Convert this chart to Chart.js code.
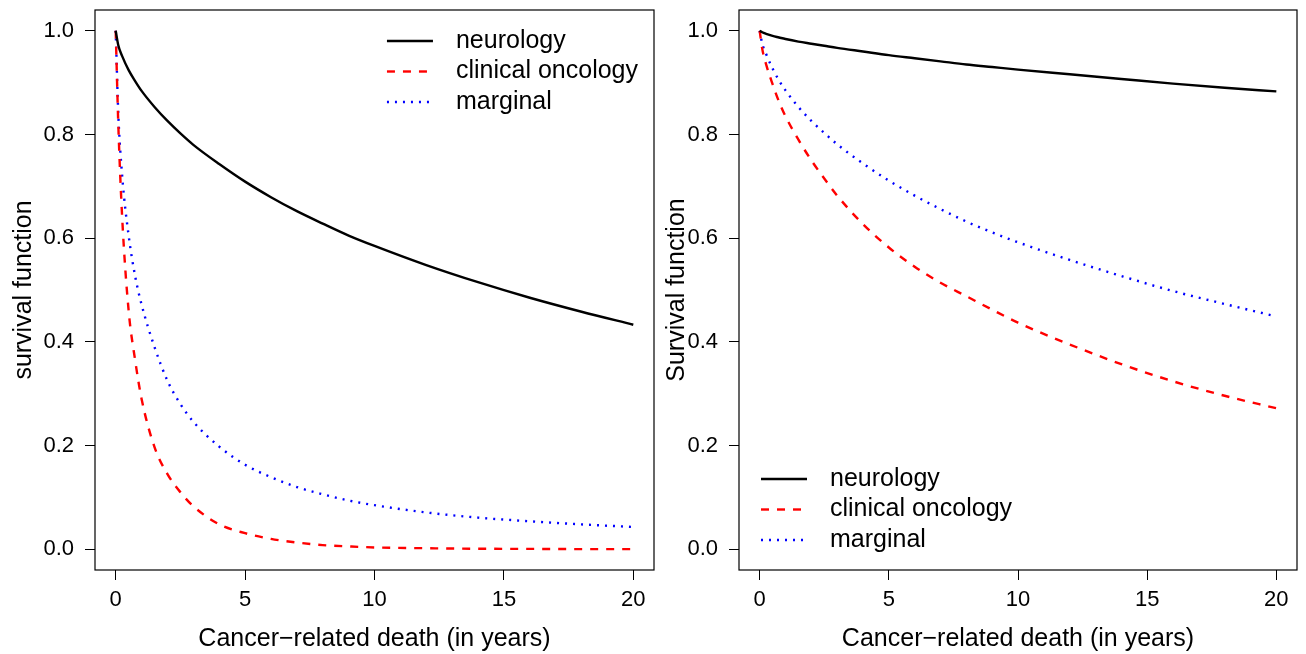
<!DOCTYPE html>
<html>
<head>
<meta charset="utf-8">
<title>Survival functions</title>
<script src="https://cdn.jsdelivr.net/npm/chart.js@4"></script>
<style>
  body { margin: 0; background: #fff; }
  .panel { position: absolute; top: 0; }
  #leftPanel { left: 0; }
  #rightPanel { left: 653px; }
</style>
</head>
<body>
<div class="panel" id="leftPanel"><canvas id="leftChart" width="660" height="654"></canvas></div>
<div class="panel" id="rightPanel"><canvas id="rightChart" width="653" height="654"></canvas></div>

<script>
// Time grid in years (finer near 0 where the curves drop fast)
const years = [0, 0.1, 0.25, 0.5, 0.75, 1, 1.5, 2, 2.5, 3, 4, 5, 6, 7, 8, 9, 10, 12, 14, 16, 18, 20];

// Left panel: survival function per group
const leftNeurology = [1.0, 0.972, 0.951, 0.924, 0.903, 0.884, 0.853, 0.826, 0.802, 0.780, 0.743, 0.709, 0.679, 0.652, 0.628, 0.605, 0.585, 0.548, 0.515, 0.485, 0.458, 0.433];
const leftOncology  = [1.0, 0.82, 0.64, 0.46, 0.365, 0.29, 0.197, 0.145, 0.110, 0.083, 0.048, 0.031, 0.020, 0.013, 0.008, 0.0055, 0.0035, 0.002, 0.001, 0.0007, 0.0003, 0.0002];
const leftMarginal  = [1.0, 0.84, 0.72, 0.605, 0.527, 0.472, 0.39, 0.325, 0.28, 0.246, 0.198, 0.163, 0.139, 0.120, 0.106, 0.094, 0.085, 0.071, 0.061, 0.054, 0.048, 0.043];

// Right panel: Survival function per group
const rightNeurology = [1.0, 0.997, 0.994, 0.990, 0.987, 0.984, 0.979, 0.975, 0.971, 0.967, 0.960, 0.953, 0.947, 0.941, 0.935, 0.930, 0.925, 0.916, 0.907, 0.898, 0.890, 0.883];
const rightOncology  = [1.0, 0.965, 0.935, 0.897, 0.863, 0.835, 0.790, 0.750, 0.715, 0.682, 0.627, 0.582, 0.545, 0.514, 0.488, 0.462, 0.437, 0.395, 0.357, 0.324, 0.296, 0.272];
const rightMarginal  = [1.0, 0.975, 0.955, 0.927, 0.904, 0.885, 0.853, 0.826, 0.803, 0.781, 0.744, 0.711, 0.682, 0.656, 0.632, 0.611, 0.592, 0.558, 0.527, 0.498, 0.473, 0.449];

// Labels and ticks
const seriesLabels = ['neurology', 'clinical oncology', 'marginal'];
const xTickValues = [0, 5, 10, 15, 20];
const yTickValues = [0, 0.2, 0.4, 0.6, 0.8, 1.0];
const xTitle = 'Cancer\u2212related death (in years)';

Chart.defaults.font.family = "'Liberation Sans', Arial, Helvetica, sans-serif";
Chart.defaults.color = '#000';

// Line styles: solid black, dashed red, dotted blue
const seriesStyles = [
    { color: '#000000', dash: [] },
    { color: '#ff0000', dash: [8, 8] },
    { color: '#0000ff', dash: [2, 6] }
];

// Frame around the plotting region
const boxPlugin = {
    id: 'plotBox',
    afterDatasetsDraw(chart) {
        const a = chart.chartArea;
        const ctx = chart.ctx;
        ctx.save();
        ctx.strokeStyle = '#000';
        ctx.lineWidth = 1.2;
        ctx.strokeRect(a.left, a.top, a.right - a.left, a.bottom - a.top);
        ctx.restore();
    }
};

// Legend without frame, line sample followed by the label
const legendPlugin = {
    id: 'survivalLegend',
    afterDraw(chart, args, opts) {
        const a = chart.chartArea;
        const ctx = chart.ctx;
        const sets = chart.data.datasets;
        const lineLen = 46, gap = 23, rowH = 30.5;
        ctx.save();
        ctx.font = '25px ' + Chart.defaults.font.family;
        ctx.textBaseline = 'middle';
        ctx.textAlign = 'left';
        const textW = Math.max(...sets.map(s => ctx.measureText(s.label).width));
        let x0, y0;
        if (opts.corner === 'topright') {
            x0 = a.right - opts.dx - (lineLen + gap + textW);
            y0 = a.top + opts.dy;
        } else {
            x0 = a.left + opts.dx;
            y0 = a.bottom - opts.dy - (sets.length - 1) * rowH;
        }
        sets.forEach((s, i) => {
            const y = y0 + i * rowH;
            ctx.strokeStyle = s.borderColor;
            ctx.lineWidth = s.borderWidth;
            ctx.setLineDash(s.borderDash);
            ctx.beginPath();
            ctx.moveTo(x0, y);
            ctx.lineTo(x0 + lineLen, y);
            ctx.stroke();
            ctx.setLineDash([]);
            ctx.fillStyle = '#000';
            ctx.fillText(s.label, x0 + lineLen + gap, y);
        });
        ctx.restore();
    }
};

function buildDatasets(seriesList) {
    return seriesList.map((values, i) => ({
        label: seriesLabels[i],
        data: years.map((t, j) => ({ x: t, y: values[j] })),
        borderColor: seriesStyles[i].color,
        borderDash: seriesStyles[i].dash,
        borderWidth: 2.4,
        pointRadius: 0,
        fill: false,
        cubicInterpolationMode: 'monotone'
    }));
}

function createPanel(canvasId, seriesList, yTitle, axisWidth, padRight, legendOpts) {
    const ctx = document.getElementById(canvasId);
    return new Chart(ctx, {
        type: 'line',
        data: { datasets: buildDatasets(seriesList) },
        plugins: [boxPlugin, legendPlugin],
        options: {
            responsive: false,
            animation: false,
            layout: { padding: { top: 10, right: padRight, left: 0, bottom: 0 } },
            plugins: {
                legend: { display: false },
                tooltip: { enabled: false },
                survivalLegend: legendOpts
            },
            scales: {
                x: {
                    type: 'linear',
                    min: -0.8,
                    max: 20.8,
                    afterBuildTicks: s => { s.ticks = xTickValues.map(v => ({ value: v })); },
                    afterFit: s => { s.height = 84; s.paddingLeft = 0; s.paddingRight = 0; },
                    grid: { drawOnChartArea: false, color: '#000', tickLength: 10, lineWidth: 1 },
                    border: { display: false },
                    ticks: { font: { size: 22 }, padding: 7, maxRotation: 0, autoSkip: false },
                    title: { display: true, text: xTitle, font: { size: 25 }, padding: { top: 0, bottom: 0 } }
                },
                y: {
                    type: 'linear',
                    min: -0.04,
                    max: 1.04,
                    afterBuildTicks: s => { s.ticks = yTickValues.map(v => ({ value: v })); },
                    afterFit: s => { s.width = axisWidth; s.paddingTop = 0; s.paddingBottom = 0; },
                    grid: { drawOnChartArea: false, color: '#000', tickLength: 10, lineWidth: 1 },
                    border: { display: false },
                    ticks: { font: { size: 22 }, padding: 11, callback: v => v.toFixed(1) },
                    title: { display: true, text: yTitle, font: { size: 25 }, padding: { top: 9, bottom: 0 } }
                }
            }
        }
    });
}

createPanel('leftChart', [leftNeurology, leftOncology, leftMarginal], 'survival function', 95, 6,
    { corner: 'topright', dx: 16, dy: 31 });
createPanel('rightChart', [rightNeurology, rightOncology, rightMarginal], 'Survival function', 86, 9,
    { corner: 'bottomleft', dx: 22, dy: 30 });
</script>
</body>
</html>
